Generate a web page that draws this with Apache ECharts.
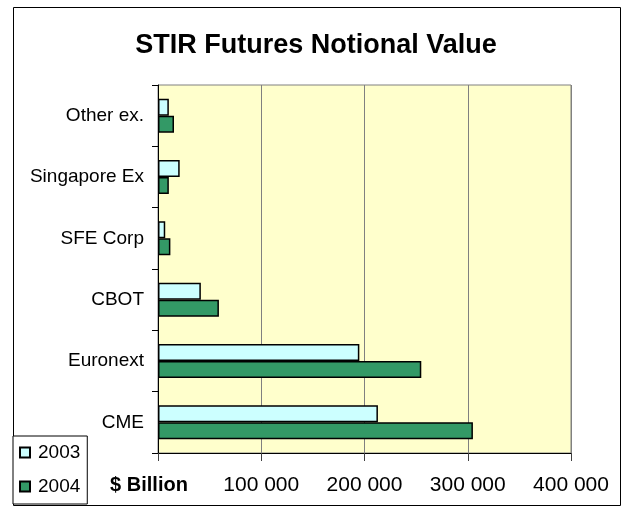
<!DOCTYPE html>
<html>
<head>
<meta charset="utf-8">
<script src="https://cdn.jsdelivr.net/npm/echarts@6/dist/echarts.min.js"></script>
<style>
html,body{margin:0;padding:0;background:#fff;}
#chart{width:625px;height:507px;}
</style>
</head>
<body>
<div id="chart"></div>
<script>
const categories = ['CME', 'Euronext', 'CBOT', 'SFE Corp', 'Singapore Ex', 'Other ex.'];
const values2003 = [213000, 195000, 41500, 7000, 21000, 10500];
const values2004 = [305000, 255000, 59000, 12000, 10500, 15500];
const xTicks = [0, 100000, 200000, 300000, 400000];
const seriesNames = ['2003', '2004'];

const FONT = '"Liberation Sans", Arial, sans-serif';
const chart = echarts.init(document.getElementById('chart'), null, {renderer: 'canvas'});

function fmt(v) {
  if (v === 0) return '{u|$ Billion}';
  const s = String(v);
  return s.slice(0, s.length - 3) + ' ' + s.slice(-3);
}

chart.setOption({
  animation: false,
  backgroundColor: '#ffffff',
  textStyle: {fontFamily: FONT},
  graphic: [{
    type: 'rect', z: -10, silent: true,
    shape: {x: 13.5, y: 7.5, width: 607, height: 498},
    style: {fill: '#ffffff', stroke: '#000000', lineWidth: 1}
  }],
  title: {
    text: 'STIR Futures Notional Value',
    left: 311, top: 27, textAlign: 'center',
    textStyle: {fontFamily: FONT, fontSize: 27, fontWeight: 'bold', color: '#000'}
  },
  legend: {
    orient: 'vertical',
    left: 13, top: 436,
    data: seriesNames,
    itemWidth: 10, itemHeight: 10, itemGap: 15,
    padding: [7, 7, 8, 6],
    backgroundColor: '#ffffff',
    borderColor: '#000000', borderWidth: 1,
    icon: 'rect',
    textStyle: {fontFamily: FONT, fontSize: 19, color: '#000', padding: [0, 0, 0, 3]}
  },
  grid: {
    left: 158, right: 54, top: 85, bottom: 54,
    show: true, backgroundColor: '#FFFFCC', borderColor: '#808080', borderWidth: 1
  },
  xAxis: {
    type: 'value', min: xTicks[0], max: xTicks[xTicks.length - 1], interval: 100000,
    axisLine: {show: true, lineStyle: {color: '#000', width: 1}},
    axisTick: {show: true, length: 8, lineStyle: {color: '#404040'}},
    splitLine: {show: true, lineStyle: {color: '#808080', width: 1}},
    axisLabel: {
      margin: 22, fontFamily: FONT, fontSize: 21, color: '#000',
      formatter: fmt,
      rich: {u: {fontFamily: FONT, fontSize: 20, fontWeight: 'bold', color: '#000', padding: [0, 18, 0, 0]}}
    }
  },
  yAxis: {
    type: 'category', data: categories,
    axisLine: {show: true, lineStyle: {color: '#000', width: 1}},
    axisTick: {show: true, length: 6, lineStyle: {color: '#000'}},
    axisLabel: {margin: 14, fontFamily: FONT, fontSize: 19, color: '#000'}
  },
  series: [
    {
      name: '2003', type: 'bar', data: values2003, barWidth: 17, barGap: '0%',
      itemStyle: {color: '#CCFFFF', borderColor: '#000', borderWidth: 1.5}
    },
    {
      name: '2004', type: 'bar', data: values2004, barWidth: 17, barGap: '0%',
      itemStyle: {color: '#339966', borderColor: '#000', borderWidth: 1.5}
    }
  ]
});
</script>
</body>
</html>
